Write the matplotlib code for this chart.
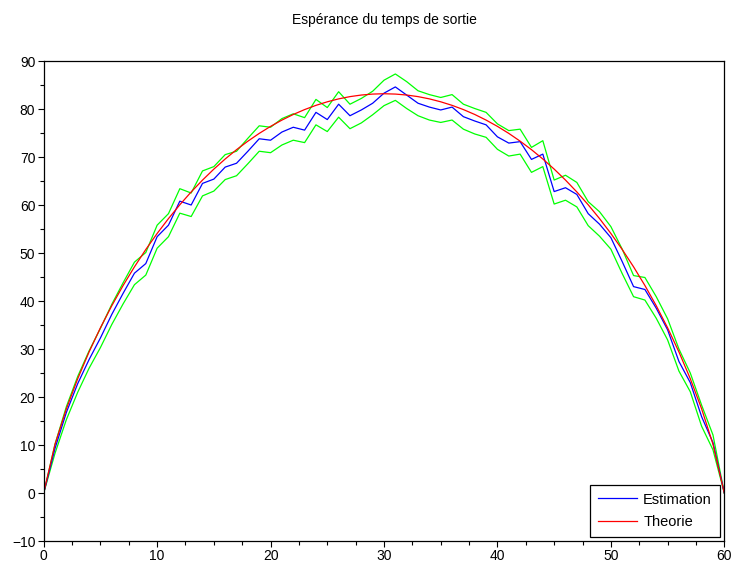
import matplotlib
matplotlib.use("Agg")
import matplotlib.pyplot as plt
from matplotlib.ticker import MultipleLocator

plt.rcParams['font.family'] = ['Liberation Sans', 'DejaVu Sans']

# Positions x = 0..60
x = list(range(61))

# Estimated mean exit time (blue)
estimation = [0, 9.3, 16.8, 22.8, 27.8, 32.3, 37.2, 41.6, 45.8, 47.8,
              53.4, 55.8, 60.8, 60.0, 64.5, 65.4, 67.9, 68.7, 71.2, 73.8,
              73.5, 75.2, 76.2, 75.6, 79.3, 77.8, 81.0, 78.6, 79.8, 81.2,
              83.3, 84.6, 82.9, 81.2, 80.4, 79.8, 80.4, 78.4, 77.5, 76.7,
              74.2, 72.9, 73.2, 69.5, 70.6, 62.8, 63.6, 62.2, 58.2, 56.0,
              53.2, 48.2, 43.0, 42.4, 38.5, 34.0, 27.4, 23.0, 15.9, 10.5, 0]

# Confidence band (green)
upper = [0, 10.2, 18.0, 24.3, 29.6, 34.3, 39.3, 43.8, 48.1, 50.1,
         55.8, 58.2, 63.4, 62.5, 67.1, 68.0, 70.5, 71.2, 73.9, 76.5,
         76.2, 78.0, 79.0, 78.2, 82.0, 80.3, 83.6, 81.0, 82.2, 83.7,
         86.0, 87.3, 85.7, 83.8, 83.0, 82.4, 83.0, 81.0, 80.1, 79.3,
         76.9, 75.5, 75.8, 72.0, 73.4, 65.2, 66.2, 64.7, 60.7, 58.6,
         55.5, 50.8, 45.3, 44.9, 40.9, 36.3, 30.0, 25.0, 18.3, 12.1, 0]
lower = [0, 8.3, 15.3, 21.0, 26.0, 30.3, 35.1, 39.4, 43.4, 45.4,
         51.0, 53.4, 58.3, 57.6, 61.9, 62.9, 65.3, 66.1, 68.6, 71.2,
         70.9, 72.5, 73.5, 73.0, 76.7, 75.3, 78.3, 75.9, 77.1, 78.8,
         80.7, 81.8, 80.1, 78.6, 77.7, 77.2, 77.7, 75.8, 74.8, 74.1,
         71.6, 70.2, 70.6, 66.8, 68.0, 60.2, 61.0, 59.6, 55.7, 53.5,
         50.8, 45.7, 40.9, 40.2, 36.4, 31.9, 25.4, 21.1, 13.9, 9.0, 0]

# Theoretical curve (red) (symmetric around x=30)
theorie_left = [0, 10.17, 17.54, 23.82, 29.39, 34.42, 39.01, 43.23, 47.12, 50.73,
                54.07, 57.17, 60.05, 62.72, 65.19, 67.48, 69.59, 71.53, 73.30, 74.92,
                76.38, 77.69, 78.86, 79.88, 80.76, 81.50, 82.11, 82.58, 82.91, 83.11,
                83.18]
theorie = theorie_left + theorie_left[-2::-1]

fig = plt.figure(figsize=(7.32, 5.68), dpi=100)
ax = fig.add_axes([0.0597, 0.0475, 0.9298, 0.8451])

ax.plot(x, upper, color='#00ff00', lw=0.9)
ax.plot(x, lower, color='#00ff00', lw=0.9)
ax.plot(x, estimation, color='#0000ff', lw=0.9, label='Estimation')
ax.plot(x, theorie, color='#ff0000', lw=0.9, label='Theorie')

ax.set_xlim(0, 60)
ax.set_ylim(-10, 90)
ax.xaxis.set_major_locator(MultipleLocator(10))
ax.xaxis.set_minor_locator(MultipleLocator(2.5))
ax.yaxis.set_major_locator(MultipleLocator(10))
ax.yaxis.set_minor_locator(MultipleLocator(5))
ax.tick_params(which='major', direction='out', length=4, width=0.8, labelsize=10, pad=2)
ax.tick_params(which='minor', direction='out', length=3, width=0.8)
for s in ax.spines.values():
    s.set_linewidth(0.9)

fig.text(0.525, 1 - 20 / 568, "Espérance du temps de sortie", ha='center', va='center', fontsize=10)

leg = ax.legend(loc='lower right', fancybox=False, edgecolor='black', fontsize=10.5,
                handlelength=2.7, labelspacing=0.55, borderaxespad=0.3,
                borderpad=0.55, handletextpad=0.4, framealpha=1)
leg.get_frame().set_linewidth(0.9)

plt.savefig('out.png', dpi=100)
